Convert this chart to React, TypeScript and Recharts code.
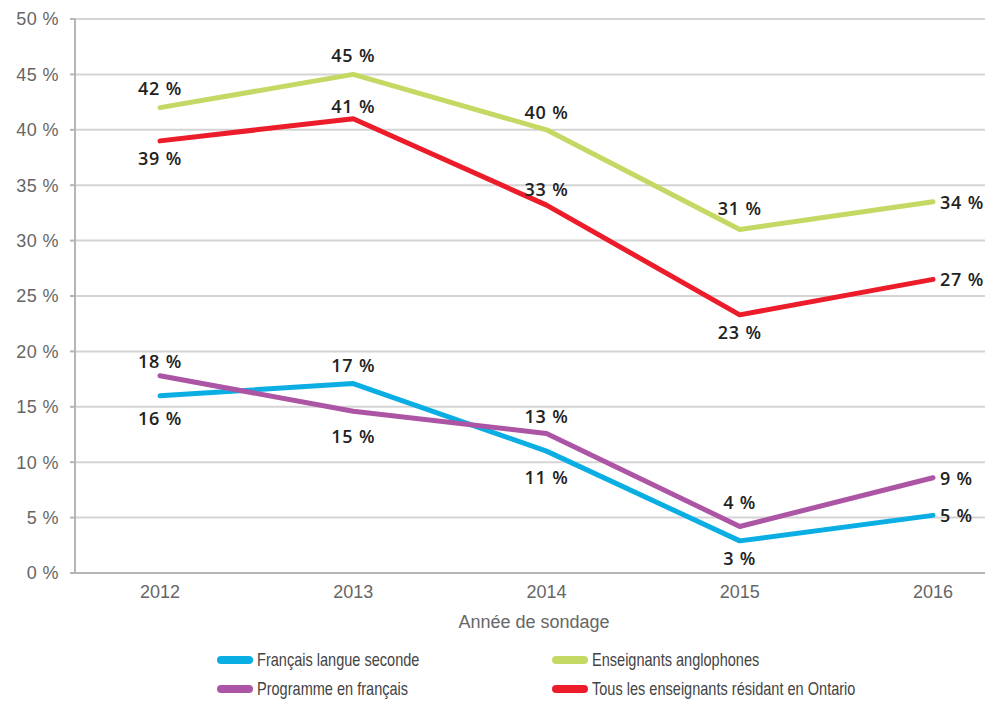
import React from 'react';
import { LineChart, Line, XAxis, YAxis, CartesianGrid, LabelList } from 'recharts';

const years = ['2012', '2013', '2014', '2015', '2016'];
const fslValues = [16.0, 17.1, 11.0, 2.9, 5.2];
const frenchProgValues = [17.8, 14.6, 12.6, 4.2, 8.6];
const englishTeachValues = [42.0, 45.0, 40.0, 31.0, 33.5];
const allOntarioValues = [39.0, 41.0, 33.2, 23.3, 26.5];
const yTicks = [0, 5, 10, 15, 20, 25, 30, 35, 40, 45, 50];

const seriesNames = {
  fsl: 'Français langue seconde',
  prog: 'Programme en français',
  eng: 'Enseignants anglophones',
  all: 'Tous les enseignants résidant en Ontario',
};

const colors = {
  fsl: '#0aaee3',
  prog: '#ad55a5',
  eng: '#c3d963',
  all: '#ec1c2a',
};

// label placement per point (styling only)
const labelPos = {
  fsl: [22, -19, 26, 17, 'r'],
  prog: [-15, 25, -17, -24, 'r'],
  eng: [-20, -19, -18, -22, 'r'],
  all: [17, -13, -16, 17, 'r'],
};

const data = years.map((y, i) => ({
  year: y,
  fsl: fslValues[i],
  prog: frenchProgValues[i],
  eng: englishTeachValues[i],
  all: allOntarioValues[i],
}));

const makeLabel = (key: string) => (props: any) => {
  const { x, y, value, index } = props;
  const pos = (labelPos as any)[key][index];
  const text = `${Math.round(value)} %`;
  const common = {
    fontFamily: 'Open Sans, DejaVu Sans, sans-serif',
    fontSize: 18,
    fontWeight: 600,
    fill: '#222',
    letterSpacing: 0.8,
    dominantBaseline: 'central' as const,
  };
  if (pos === 'r') {
    return (
      <text x={x + 7} y={y} textAnchor="start" {...common}>
        {text}
      </text>
    );
  }
  return (
    <text x={x} y={y + pos} textAnchor="middle" {...common}>
      {text}
    </text>
  );
};

const legendItems = ['fsl', 'eng', 'prog', 'all'];

export default function App() {
  return (
    <div style={{ width: 985, height: 694, position: 'relative', background: '#fff' }}>
      <LineChart
        width={985}
        height={640}
        data={data}
        margin={{ top: 11, right: 0, bottom: 0, left: 0 }}
      >
        <CartesianGrid vertical={false} stroke="#d4d4d4" strokeWidth={2} />
        <XAxis
          dataKey="year"
          padding={{ left: 85, right: 60 }}
          height={75}
          tickLine={false}
          tickSize={0}
          tickMargin={12}
          axisLine={{ stroke: '#b5b5b5', strokeWidth: 2 }}
          tick={{ fill: '#666', fontSize: 18, fontFamily: 'Liberation Sans, Arial, sans-serif' }}
          label={{
            value: 'Année de sondage',
            position: 'insideBottom',
            offset: 20,
            fill: '#666',
            fontSize: 18,
            fontFamily: 'Liberation Sans, Arial, sans-serif',
          }}
        />
        <YAxis
          width={67}
          domain={[0, 50]}
          ticks={yTicks}
          interval={0}
          tickSize={5}
          tickMargin={11}
          tickFormatter={(v: number) => `${v} %`}
          axisLine={{ stroke: '#b5b5b5', strokeWidth: 2 }}
          tickLine={{ stroke: '#b5b5b5', strokeWidth: 2 }}
          tick={{ fill: '#666', fontSize: 18, fontFamily: 'Liberation Sans, Arial, sans-serif', letterSpacing: 0.4 }}
        />
        {(['eng', 'all', 'fsl', 'prog'] as const).map((k) => (
          <Line
            key={k}
            type="linear"
            dataKey={k}
            stroke={colors[k]}
            strokeWidth={5}
            strokeLinecap="round"
            strokeLinejoin="round"
            dot={false}
            activeDot={false}
            isAnimationActive={false}
          >
            <LabelList dataKey={k} content={makeLabel(k)} />
          </Line>
        ))}
      </LineChart>
      <div
        style={{
          position: 'absolute',
          left: 209,
          top: 641,
          display: 'grid',
          gridTemplateColumns: '335px 300px',
          rowGap: 7,
          fontFamily: 'Liberation Sans, Arial, sans-serif',
          fontSize: 19,
          color: '#444',
          whiteSpace: 'nowrap',
        }}
      >
        {legendItems.map((k) => (
          <div key={k} style={{ display: 'flex', alignItems: 'center', height: 22 }}>
            <span
              style={{
                display: 'inline-block',
                width: 36,
                height: 8,
                borderRadius: 4,
                background: (colors as any)[k],
                marginRight: 4,
                flex: 'none',
              }}
            />
            <span
              style={{
                display: 'inline-block',
                transform: 'scaleX(0.765)',
                transformOrigin: 'left center',
              }}
            >
              {(seriesNames as any)[k]}
            </span>
          </div>
        ))}
      </div>
    </div>
  );
}
